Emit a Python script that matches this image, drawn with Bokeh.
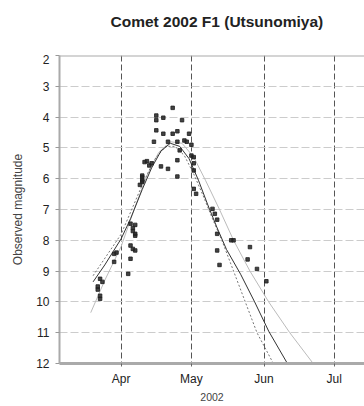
import pandas as pd
from bokeh.plotting import figure
from bokeh.layouts import column
from bokeh.models import Range1d, FixedTicker, DatetimeTickFormatter, Span
from bokeh.core.properties import value
from bokeh.embed import file_html
from bokeh.resources import INLINE

# ---------------- data ----------------
obs_dates = [
    "2002-03-22", "2002-03-23", "2002-03-24", "2002-03-22", "2002-03-23", "2002-03-23",
    "2002-03-29", "2002-03-29", "2002-03-30",
    "2002-04-04", "2002-04-05", "2002-04-05", "2002-04-06", "2002-04-07", "2002-04-07",
    "2002-04-05", "2002-04-06", "2002-04-07", "2002-04-06", "2002-04-07",
    "2002-04-09", "2002-04-10", "2002-04-10", "2002-04-10", "2002-04-10",
    "2002-04-11", "2002-04-12", "2002-04-13", "2002-04-14",
    "2002-04-15", "2002-04-16", "2002-04-16", "2002-04-16", "2002-04-18",
    "2002-04-19", "2002-04-19", "2002-04-21", "2002-04-21", "2002-04-23", "2002-04-23",
    "2002-04-25", "2002-04-25", "2002-04-25", "2002-04-25", "2002-04-26", "2002-04-27",
    "2002-04-28", "2002-04-29", "2002-04-30", "2002-05-01", "2002-05-01", "2002-05-02",
    "2002-05-02", "2002-05-02", "2002-05-02", "2002-05-03",
    "2002-05-10", "2002-05-11", "2002-05-12", "2002-05-12", "2002-05-12", "2002-05-13",
    "2002-05-18", "2002-05-19", "2002-05-25", "2002-05-26", "2002-05-29", "2002-06-02",
]
obs_mag = [
    9.50, 9.25, 9.35, 9.60, 9.80, 9.90,
    8.70, 8.44, 8.40,
    9.09, 8.60, 8.17, 8.28, 8.33, 7.79,
    7.46, 7.60, 7.50, 7.70, 7.85,
    6.20, 6.10, 6.06, 5.90, 5.95,
    5.46, 5.43, 5.57, 5.50,
    4.80, 4.43, 3.95, 4.10, 5.60,
    4.02, 4.54, 4.80, 5.68, 3.70, 4.54,
    4.46, 4.80, 5.40, 5.93, 5.08, 4.10,
    4.76, 4.80, 4.54, 4.90, 5.25, 5.73,
    5.50, 6.33, 5.30, 6.49,
    6.98, 7.14, 7.33, 7.79, 8.33, 8.80,
    8.00, 8.00, 8.62, 8.22, 8.93, 9.33,
]

fit_dates = ["2002-03-20", "2002-03-25", "2002-04-01", "2002-04-05", "2002-04-10", "2002-04-14",
             "2002-04-18", "2002-04-22", "2002-04-26", "2002-04-30", "2002-05-04", "2002-05-08",
             "2002-05-12", "2002-05-16", "2002-05-22", "2002-05-28", "2002-06-03", "2002-06-11"]
fit_mag = [9.35, 8.8, 7.95, 7.3, 6.35, 5.65, 5.1, 4.85, 4.95, 5.35, 6.05, 6.85,
           7.6, 8.3, 9.1, 10.0, 10.95, 12.0]

early_dates = ["2002-03-20", "2002-04-01", "2002-04-10", "2002-04-15", "2002-04-20", "2002-04-24",
               "2002-04-28", "2002-05-02", "2002-05-06", "2002-05-10", "2002-05-14", "2002-05-19",
               "2002-05-24", "2002-05-29", "2002-06-05"]
early_mag = [9.15, 7.8, 6.2, 5.4, 4.95, 4.95, 5.25, 5.85, 6.55, 7.3, 8.0, 9.0, 10.0, 11.0, 12.0]

late_dates = ["2002-03-19", "2002-03-25", "2002-04-01", "2002-04-07", "2002-04-12", "2002-04-17",
              "2002-04-22", "2002-04-27", "2002-05-02", "2002-05-07", "2002-05-13", "2002-05-19",
              "2002-05-26", "2002-06-03", "2002-06-12", "2002-06-22"]
late_mag = [10.35, 9.3, 8.2, 6.9, 5.9, 5.15, 4.8, 4.85, 5.3, 6.05, 7.0, 8.0, 9.0, 10.0, 11.0, 12.0]

month_ticks = ["2002-04-01", "2002-05-01", "2002-06-01", "2002-07-01"]
mag_ticks = [2, 3, 4, 5, 6, 7, 8, 9, 10, 11, 12]

title_text = "Comet 2002 F1 (Utsunomiya)"
x_title = "2002"
y_title = "Observed magnitude"

# ---------------- helpers ----------------
def dt(lst):
    return pd.to_datetime(lst)

def ms(s):
    return pd.Timestamp(s).value / 1e6

FONT = "Liberation Sans"

# ---------------- title strip (frame aligned with the main plot's frame) ----------------
t = figure(width=364, height=54, output_backend="svg", toolbar_location=None,
           x_range=Range1d(59, 364), y_range=Range1d(0, 54),
           x_axis_location=None, y_axis_location=None,
           min_border_left=0, min_border_right=0, min_border_top=0, min_border_bottom=0)
t.outline_line_color = None
t.xgrid.visible = False
t.ygrid.visible = False
t.background_fill_color = "white"
t.border_fill_color = "white"
t.text(x=[110], y=[33], text=[title_text], text_font=value(FONT), text_font_size="15.5px",
       text_font_style="bold", text_color="#222222", text_align="left", text_baseline="middle")

# ---------------- main plot ----------------
p = figure(width=364, height=352, output_backend="svg", toolbar_location=None,
           x_axis_type="datetime",
           x_range=Range1d(ms("2002-03-05 16:00"), ms("2002-07-13 22:00")),
           y_range=Range1d(12, 2),
           min_border_left=59, min_border_right=0, min_border_top=1, min_border_bottom=43)
p.outline_line_color = None
p.background_fill_color = "white"
p.border_fill_color = "white"

month_ms = [ms(m) for m in month_ticks]

# x axis
xa = p.xaxis[0]
xa.ticker = FixedTicker(ticks=month_ms)
xa.formatter = DatetimeTickFormatter(months="%b", days="%b", hours="%b", years="%b")
xa.axis_label = x_title
xa.axis_label_text_font = FONT
xa.axis_label_text_font_size = "10.5px"
xa.axis_label_text_font_style = "normal"
xa.axis_label_standoff = 4
xa.major_label_text_font = FONT
xa.major_label_text_font_size = "12px"
xa.major_label_text_color = "#222222"
xa.major_label_standoff = 5
xa.axis_line_color = "#aaaaaa"
xa.axis_line_width = 3
xa.major_tick_line_color = "#666666"
xa.major_tick_out = 3
xa.major_tick_in = 0
xa.minor_tick_line_color = None

# top border line
p.add_layout(Span(location=2, dimension="width", line_color="#aaaaaa", line_width=2))

# y axis
ya = p.yaxis[0]
ya.ticker = FixedTicker(ticks=mag_ticks)
ya.axis_label = y_title
ya.axis_label_text_font = FONT
ya.axis_label_text_font_size = "12px"
ya.axis_label_text_font_style = "normal"
ya.axis_label_standoff = 8
ya.major_label_text_font = FONT
ya.major_label_text_font_size = "12px"
ya.major_label_text_color = "#222222"
ya.major_label_standoff = 6
ya.axis_line_color = "#aaaaaa"
ya.axis_line_width = 2
ya.major_tick_line_color = "#999999"
ya.major_tick_out = 4
ya.major_tick_in = 0
ya.minor_tick_line_color = None

# grids
p.xgrid.ticker = FixedTicker(ticks=month_ms)
p.xgrid.grid_line_color = "#555555"
p.xgrid.grid_line_dash = "6 3"
p.xgrid.grid_line_width = 1
p.ygrid.ticker = FixedTicker(ticks=mag_ticks)
p.ygrid.grid_line_color = "#cccccc"
p.ygrid.grid_line_dash = "8 3"
p.ygrid.grid_line_width = 1

# curves
p.line(dt(late_dates), late_mag, line_color="#bbbbbb", line_width=1)
p.line(dt(early_dates), early_mag, line_color="#777777", line_width=1, line_dash="2 2")
p.line(dt(fit_dates), fit_mag, line_color="#333333", line_width=1)

# observations
p.scatter(dt(obs_dates), obs_mag, marker="square", size=3.5, fill_color="#222222",
          line_color="#222222", alpha=0.85)

layout = column(t, p, spacing=0)
open("out.html", "w").write(file_html(layout, INLINE))
